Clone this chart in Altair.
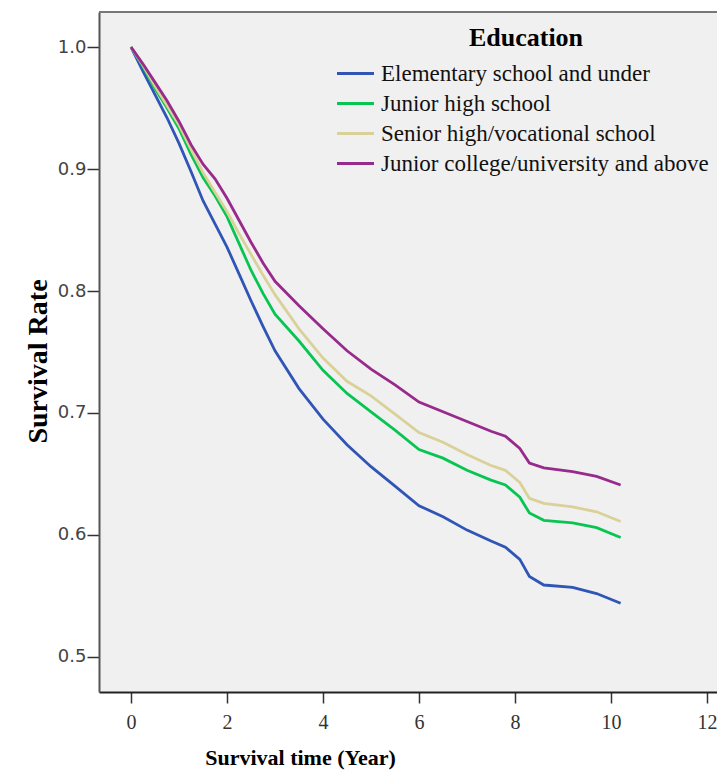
import altair as alt
import pandas as pd

# ---- data ----
time_years = [0, 0.25, 0.5, 0.75, 1.0, 1.25, 1.5, 1.75, 2.0, 2.25, 2.5, 2.75, 3.0, 3.5, 4.0, 4.5,
              5.0, 5.5, 6.0, 6.5, 7.0, 7.5, 7.8, 8.1, 8.3, 8.6, 9.2, 9.7, 10.2]

elementary = [1.0, 0.980, 0.961, 0.942, 0.921, 0.898, 0.874, 0.855, 0.836, 0.814, 0.792, 0.771,
              0.751, 0.720, 0.695, 0.674, 0.656, 0.640, 0.624, 0.615, 0.604, 0.595, 0.590,
              0.580, 0.566, 0.559, 0.557, 0.552, 0.544]
junior_high = [1.0, 0.984, 0.966, 0.950, 0.933, 0.912, 0.893, 0.878, 0.861, 0.839, 0.817, 0.798,
               0.781, 0.759, 0.735, 0.716, 0.701, 0.686, 0.670, 0.663, 0.653, 0.645, 0.641,
               0.631, 0.618, 0.612, 0.610, 0.606, 0.598]
senior_high = [1.0, 0.985, 0.968, 0.952, 0.936, 0.916, 0.897, 0.881, 0.865, 0.847, 0.830, 0.813,
               0.797, 0.769, 0.745, 0.726, 0.714, 0.699, 0.684, 0.676, 0.666, 0.657, 0.653,
               0.643, 0.630, 0.626, 0.623, 0.619, 0.611]
college = [1.0, 0.986, 0.971, 0.956, 0.939, 0.920, 0.904, 0.892, 0.876, 0.858, 0.840, 0.823,
           0.808, 0.788, 0.769, 0.751, 0.736, 0.723, 0.709, 0.701, 0.693, 0.685, 0.681,
           0.671, 0.659, 0.655, 0.652, 0.648, 0.641]

groups = ["Elementary school and under", "Junior high school",
          "Senior high/vocational school", "Junior college/university and above"]
series = [elementary, junior_high, senior_high, college]
colors = ["#2f56b6", "#08c552", "#dad199", "#982a8c"]

x_ticks = [0, 2, 4, 6, 8, 10, 12]
y_ticks = [0.5, 0.6, 0.7, 0.8, 0.9, 1.0]

rows = []
for g, vals in zip(groups, series):
    for t, v in zip(time_years, vals):
        rows.append({"time": t, "rate": v, "group": g})
df = pd.DataFrame(rows)

x_dom = [-0.667, 12.208]
y_dom = [0.4713, 1.0287]

serif = "Liberation Serif"

lines = alt.Chart(df).mark_line(strokeWidth=2.8).encode(
    x=alt.X("time:Q",
            scale=alt.Scale(domain=x_dom, nice=False, zero=False),
            axis=alt.Axis(values=x_ticks, format="d", title="Survival time (Year)",
                          grid=False, domainColor="#222", domainWidth=2,
                          tickColor="#333", tickSize=11, tickWidth=1.5,
                          labelFont=serif, labelFontSize=20, labelColor="#333",
                          labelPadding=9,
                          titleFont=serif, titleFontSize=22, titleFontWeight="bold",
                          titleColor="#000", titleX=201, titleY=72,
                          titleAlign="center", titleBaseline="alphabetic")),
    y=alt.Y("rate:Q",
            scale=alt.Scale(domain=y_dom, nice=False, zero=False),
            axis=alt.Axis(values=y_ticks, format=".1f", title="Survival Rate",
                          grid=False, domainColor="#555", domainWidth=2,
                          tickColor="#333", tickSize=12, tickWidth=1.5,
                          labelFont="DejaVu Sans", labelFontSize=18, labelColor="#444",
                          labelPadding=1,
                          titleFont=serif, titleFontSize=28, titleFontWeight="bold",
                          titleColor="#000", titleX=-61, titleY=349, titleAngle=270,
                          titleAlign="center", titleBaseline="middle")),
    color=alt.Color("group:N",
                    scale=alt.Scale(domain=groups, range=colors),
                    sort=groups,
                    legend=alt.Legend(title="Education", orient="none",
                                      legendX=245, legendY=13, padding=0,
                                      titleFont=serif, titleFontSize=26,
                                      titleFontWeight="bold", titleColor="#000",
                                      titleAnchor="middle", titlePadding=11,
                                      labelFont=serif, labelFontSize=23,
                                      labelColor="#111", labelLimit=400,
                                      labelOffset=14,
                                      symbolType="M-2,0H2", symbolSize=342,
                                      symbolStrokeWidth=3, rowPadding=6)),
)

top_border = alt.Chart(pd.DataFrame({"y": [y_dom[1]]})).mark_rule(
    color="#777", strokeWidth=2).encode(y=alt.Y("y:Q"))

chart = alt.layer(lines, top_border).properties(
    width=618, height=680,
    padding={"left": 91, "top": 4, "right": 0, "bottom": 78},
    autosize=alt.AutoSizeParams(type="none"),
    background="#ffffff",
).configure_view(stroke=None, fill="#f0f0f0")

chart.save("out.html", embed_options={"renderer": "svg", "actions": False})
